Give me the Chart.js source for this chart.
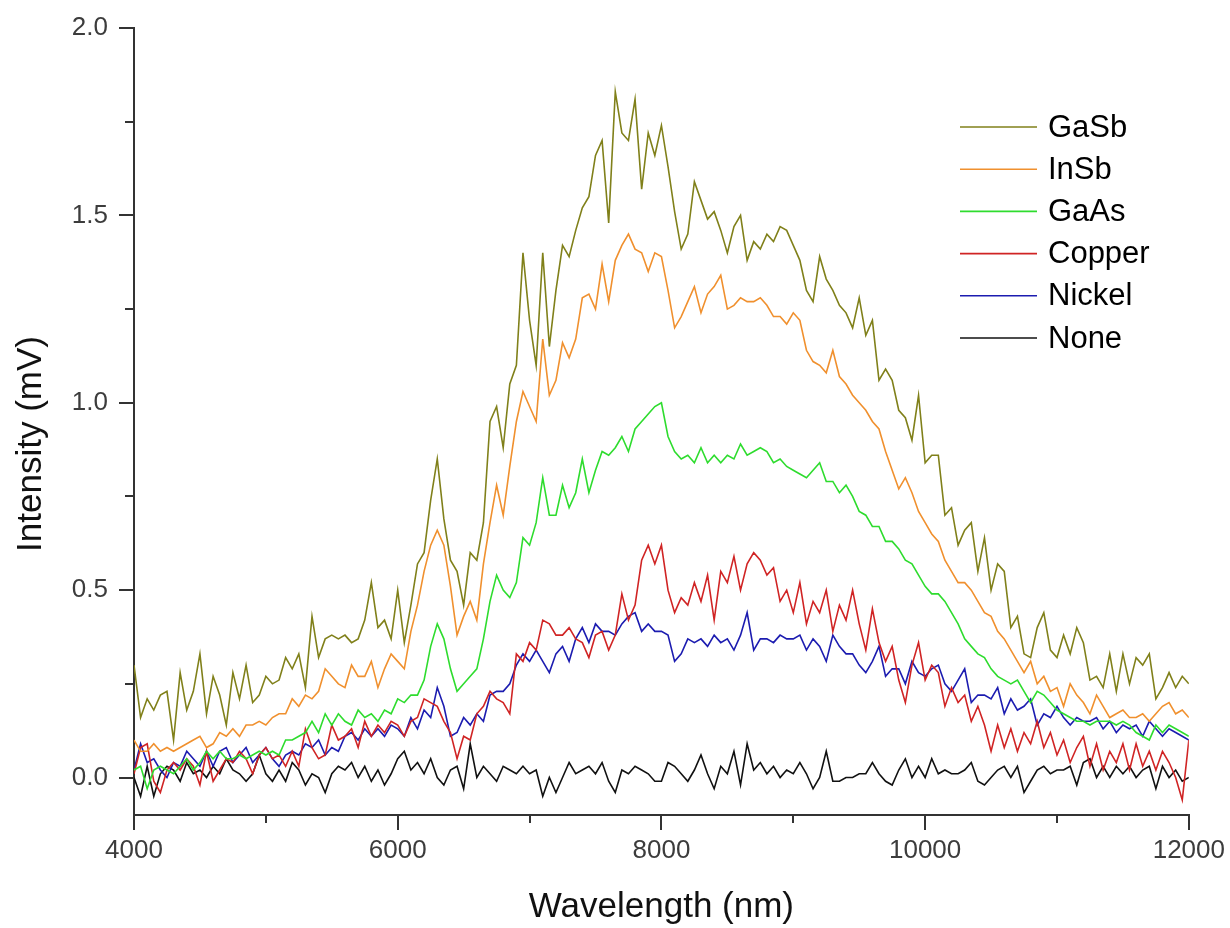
<!DOCTYPE html>
<html>
<head>
<meta charset="utf-8">
<title>Intensity vs Wavelength</title>
<script src="https://cdn.jsdelivr.net/npm/chart.js@4.4.1/dist/chart.umd.min.js"></script>
<style>
  html, body { margin: 0; padding: 0; background: #fff; }
  #wrap { width: 1230px; height: 928px; position: relative; }
</style>
</head>
<body>
<div id="wrap"><canvas id="spectrumChart"></canvas></div>
<script>
// sampling grid: 4000 .. 12000 nm, 50 nm apart
var wavelengths = [];
for (var w = 4000; w <= 12000; w += 50) wavelengths.push(w);

var gasb = [
  0.30, 0.16, 0.21, 0.18, 0.22, 0.23, 0.10, 0.28, 0.18, 0.23,
  0.33, 0.17, 0.27, 0.22, 0.14, 0.28, 0.21, 0.30, 0.20, 0.22,
  0.27, 0.25, 0.26, 0.32, 0.29, 0.33, 0.24, 0.43, 0.32, 0.37,
  0.38, 0.37, 0.38, 0.36, 0.37, 0.42, 0.52, 0.40, 0.42, 0.37,
  0.50, 0.36, 0.46, 0.57, 0.60, 0.74, 0.85, 0.69, 0.58, 0.55,
  0.46, 0.60, 0.58, 0.68, 0.95, 0.99, 0.88, 1.05, 1.10, 1.40,
  1.22, 1.10, 1.40, 1.15, 1.30, 1.42, 1.39, 1.46, 1.52, 1.55,
  1.66, 1.70, 1.48, 1.83, 1.72, 1.70, 1.81, 1.57, 1.72, 1.66,
  1.74, 1.63, 1.51, 1.41, 1.45, 1.59, 1.54, 1.49, 1.51, 1.46,
  1.40, 1.47, 1.50, 1.38, 1.43, 1.41, 1.45, 1.43, 1.47, 1.46,
  1.42, 1.38, 1.30, 1.27, 1.39, 1.33, 1.30, 1.26, 1.24, 1.20,
  1.28, 1.18, 1.22, 1.06, 1.09, 1.06, 0.98, 0.96, 0.90, 1.02,
  0.84, 0.86, 0.86, 0.70, 0.72, 0.62, 0.66, 0.68, 0.55, 0.64,
  0.50, 0.57, 0.55, 0.40, 0.43, 0.33, 0.32, 0.40, 0.44, 0.34,
  0.32, 0.38, 0.33, 0.40, 0.36, 0.26, 0.27, 0.24, 0.33, 0.23,
  0.33, 0.25, 0.32, 0.30, 0.33, 0.21, 0.24, 0.28, 0.24, 0.27, 0.25
];

var insb = [
  0.10, 0.07, 0.07, 0.09, 0.07, 0.08, 0.07, 0.08, 0.09, 0.10,
  0.11, 0.08, 0.09, 0.12, 0.11, 0.13, 0.11, 0.14, 0.14, 0.15,
  0.14, 0.16, 0.17, 0.17, 0.21, 0.19, 0.22, 0.21, 0.23, 0.29,
  0.27, 0.25, 0.24, 0.30, 0.27, 0.27, 0.31, 0.24, 0.29, 0.33,
  0.31, 0.29, 0.39, 0.46, 0.55, 0.62, 0.66, 0.62, 0.51, 0.38,
  0.43, 0.47, 0.42, 0.57, 0.68, 0.78, 0.70, 0.83, 0.95, 1.03,
  0.99, 0.95, 1.17, 1.02, 1.06, 1.16, 1.12, 1.17, 1.28, 1.29,
  1.25, 1.37, 1.27, 1.38, 1.42, 1.45, 1.41, 1.40, 1.35, 1.40,
  1.39, 1.30, 1.20, 1.23, 1.27, 1.31, 1.24, 1.29, 1.31, 1.34,
  1.25, 1.26, 1.28, 1.27, 1.27, 1.28, 1.26, 1.23, 1.23, 1.21,
  1.24, 1.22, 1.14, 1.11, 1.10, 1.08, 1.14, 1.07, 1.05, 1.02,
  1.00, 0.98, 0.95, 0.93, 0.87, 0.82, 0.77, 0.80, 0.76, 0.71,
  0.68, 0.65, 0.63, 0.58, 0.55, 0.52, 0.52, 0.50, 0.47, 0.44,
  0.43, 0.39, 0.37, 0.34, 0.31, 0.28, 0.31, 0.25, 0.27, 0.23,
  0.24, 0.19, 0.25, 0.22, 0.20, 0.17, 0.22, 0.19, 0.16, 0.17,
  0.18, 0.16, 0.16, 0.17, 0.15, 0.17, 0.19, 0.20, 0.17, 0.18, 0.16
];

var gaas = [
  0.02, 0.03, -0.03, 0.02, 0.03, 0.02, 0.01, 0.03, 0.05, 0.02,
  0.04, 0.07, 0.05, 0.07, 0.05, 0.05, 0.06, 0.05, 0.06, 0.07,
  0.06, 0.07, 0.06, 0.10, 0.10, 0.11, 0.12, 0.15, 0.12, 0.17,
  0.14, 0.17, 0.15, 0.14, 0.18, 0.16, 0.17, 0.15, 0.18, 0.17,
  0.21, 0.20, 0.22, 0.22, 0.26, 0.35, 0.41, 0.37, 0.29, 0.23,
  0.25, 0.27, 0.29, 0.37, 0.47, 0.54, 0.50, 0.48, 0.52, 0.64,
  0.62, 0.68, 0.80, 0.70, 0.70, 0.78, 0.72, 0.76, 0.85, 0.76,
  0.82, 0.87, 0.86, 0.88, 0.91, 0.87, 0.93, 0.95, 0.97, 0.99,
  1.00, 0.91, 0.87, 0.85, 0.86, 0.84, 0.88, 0.84, 0.86, 0.84,
  0.86, 0.85, 0.89, 0.86, 0.87, 0.88, 0.87, 0.84, 0.85, 0.83,
  0.82, 0.81, 0.80, 0.82, 0.84, 0.79, 0.79, 0.76, 0.78, 0.75,
  0.71, 0.70, 0.67, 0.67, 0.63, 0.63, 0.61, 0.58, 0.57, 0.54,
  0.51, 0.49, 0.49, 0.47, 0.44, 0.41, 0.37, 0.35, 0.33, 0.32,
  0.29, 0.27, 0.26, 0.25, 0.26, 0.23, 0.20, 0.23, 0.22, 0.20,
  0.18, 0.17, 0.16, 0.15, 0.15, 0.14, 0.15, 0.15, 0.15, 0.14,
  0.15, 0.14, 0.12, 0.11, 0.10, 0.14, 0.12, 0.14, 0.13, 0.12, 0.11
];

var copper = [
  0.01, 0.08, 0.09, -0.01, -0.04, 0.02, 0.04, 0.02, 0.05, 0.03,
  -0.02, 0.07, -0.01, 0.02, 0.05, 0.04, 0.07, 0.05, 0.01, 0.06,
  0.08, 0.05, 0.06, 0.03, 0.07, 0.03, 0.13, 0.08, 0.05, 0.06,
  0.14, 0.10, 0.11, 0.13, 0.08, 0.15, 0.11, 0.14, 0.12, 0.15,
  0.14, 0.11, 0.15, 0.16, 0.21, 0.20, 0.19, 0.15, 0.12, 0.05,
  0.11, 0.10, 0.17, 0.19, 0.23, 0.21, 0.20, 0.17, 0.33, 0.31,
  0.36, 0.34, 0.42, 0.41, 0.38, 0.38, 0.40, 0.37, 0.36, 0.32,
  0.38, 0.39, 0.34, 0.38, 0.49, 0.42, 0.46, 0.58, 0.62, 0.57,
  0.62, 0.50, 0.44, 0.48, 0.46, 0.52, 0.47, 0.54, 0.42, 0.55,
  0.52, 0.59, 0.50, 0.57, 0.60, 0.58, 0.54, 0.56, 0.47, 0.50,
  0.44, 0.52, 0.41, 0.47, 0.44, 0.50, 0.39, 0.46, 0.42, 0.50,
  0.41, 0.34, 0.45, 0.36, 0.31, 0.35, 0.26, 0.20, 0.30, 0.36,
  0.26, 0.30, 0.28, 0.19, 0.24, 0.20, 0.22, 0.15, 0.19, 0.14,
  0.07, 0.14, 0.08, 0.13, 0.07, 0.12, 0.09, 0.15, 0.08, 0.12,
  0.06, 0.10, 0.04, 0.08, 0.11, 0.03, 0.09, 0.02, 0.07, 0.04,
  0.09, 0.02, 0.09, 0.03, 0.07, 0.02, 0.07, 0.04, 0.00, -0.06, 0.10
];

var nickel = [
  0.02, 0.09, 0.04, 0.05, 0.02, 0.00, 0.04, 0.03, 0.07, 0.05,
  0.03, 0.07, 0.03, 0.07, 0.08, 0.04, 0.06, 0.08, 0.04, 0.06,
  0.08, 0.05, 0.03, 0.06, 0.07, 0.06, 0.09, 0.08, 0.10, 0.06,
  0.08, 0.07, 0.11, 0.12, 0.10, 0.13, 0.11, 0.13, 0.11, 0.14,
  0.13, 0.11, 0.16, 0.13, 0.18, 0.16, 0.24, 0.19, 0.11, 0.12,
  0.16, 0.14, 0.17, 0.15, 0.22, 0.23, 0.23, 0.25, 0.30, 0.33,
  0.31, 0.34, 0.31, 0.28, 0.33, 0.35, 0.31, 0.37, 0.40, 0.36,
  0.41, 0.39, 0.39, 0.38, 0.41, 0.43, 0.44, 0.39, 0.41, 0.39,
  0.39, 0.38, 0.31, 0.33, 0.37, 0.36, 0.37, 0.35, 0.38, 0.36,
  0.37, 0.34, 0.38, 0.44, 0.34, 0.37, 0.37, 0.36, 0.38, 0.37,
  0.37, 0.38, 0.34, 0.37, 0.35, 0.31, 0.38, 0.35, 0.33, 0.33,
  0.30, 0.28, 0.31, 0.35, 0.27, 0.29, 0.29, 0.25, 0.31, 0.28,
  0.27, 0.29, 0.30, 0.25, 0.23, 0.26, 0.29, 0.20, 0.22, 0.22,
  0.21, 0.24, 0.17, 0.21, 0.18, 0.19, 0.21, 0.14, 0.17, 0.16,
  0.19, 0.16, 0.14, 0.16, 0.15, 0.15, 0.16, 0.13, 0.15, 0.12,
  0.14, 0.13, 0.14, 0.11, 0.15, 0.13, 0.11, 0.13, 0.12, 0.11, 0.10
];

var none = [
  0.00, -0.05, 0.03, -0.05, 0.01, 0.03, 0.02, -0.01, 0.04, 0.01,
  0.02, 0.00, 0.03, 0.01, 0.05, 0.02, 0.01, -0.01, 0.01, 0.06,
  0.01, -0.01, 0.02, -0.01, 0.04, 0.02, -0.02, 0.01, 0.00, -0.04,
  0.01, 0.03, 0.02, 0.04, 0.00, 0.03, -0.01, 0.02, -0.02, 0.01,
  0.05, 0.07, 0.02, 0.04, 0.01, 0.05, 0.00, -0.02, 0.02, 0.03,
  -0.03, 0.09, 0.00, 0.03, 0.01, -0.01, 0.03, 0.02, 0.01, 0.03,
  0.01, 0.02, -0.05, 0.00, -0.04, 0.00, 0.04, 0.01, 0.02, 0.03,
  0.01, 0.04, -0.01, -0.04, 0.02, 0.01, 0.03, 0.02, 0.01, -0.01,
  -0.01, 0.04, 0.03, 0.01, -0.01, 0.02, 0.06, 0.01, -0.03, 0.03,
  0.01, 0.07, -0.02, 0.09, 0.02, 0.04, 0.01, 0.03, 0.00, 0.02,
  0.01, 0.04, 0.01, -0.03, 0.00, 0.07, -0.01, -0.01, 0.00, 0.00,
  0.01, 0.01, 0.04, 0.01, -0.01, -0.02, 0.02, 0.05, 0.00, 0.03,
  0.00, 0.05, 0.01, 0.02, 0.01, 0.01, 0.02, 0.04, -0.01, -0.02,
  0.00, 0.02, 0.03, 0.00, 0.03, -0.04, -0.01, 0.02, 0.03, 0.01,
  0.02, 0.02, 0.03, -0.02, 0.04, 0.05, 0.00, 0.03, 0.00, 0.03,
  0.01, 0.03, 0.00, 0.02, 0.03, -0.03, 0.03, 0.00, 0.02, -0.01, 0.00
];

var seriesNames = ["GaSb", "InSb", "GaAs", "Copper", "Nickel", "None"];
var seriesValues = [gasb, insb, gaas, copper, nickel, none];
var seriesColors = ["#80801a", "#f0902e", "#2edc2e", "#d02424", "#1c1cb0", "#111111"];

var xTicks = [4000, 6000, 8000, 10000, 12000];
var xMinorTicks = [5000, 7000, 9000, 11000];
var yTicks = [0.0, 0.5, 1.0, 1.5, 2.0];
var yMinorTicks = [0.25, 0.75, 1.25, 1.75];

var FONT = '"Liberation Sans", Arial, sans-serif';
var AXIS_COLOR = "#333";
var LABEL_COLOR = "#3c3c3c";

// minor ticks, axis titles and the legend box
var decorPlugin = {
    id: "decor",
    afterDraw: function (chart) {
        var ctx = chart.ctx;
        var xs = chart.scales.x;
        var ys = chart.scales.y;
        var area = chart.chartArea;

        ctx.save();
        ctx.strokeStyle = AXIS_COLOR;
        ctx.lineWidth = 2;
        xMinorTicks.forEach(function (v) {
            var px = Math.round(xs.getPixelForValue(v));
            ctx.beginPath();
            ctx.moveTo(px, area.bottom);
            ctx.lineTo(px, area.bottom + 8);
            ctx.stroke();
        });
        yMinorTicks.forEach(function (v) {
            var py = Math.round(ys.getPixelForValue(v));
            ctx.beginPath();
            ctx.moveTo(area.left, py);
            ctx.lineTo(area.left - 9, py);
            ctx.stroke();
        });

        ctx.fillStyle = "#111";
        ctx.font = "35px " + FONT;
        ctx.textAlign = "center";
        ctx.textBaseline = "middle";
        ctx.fillText("Wavelength (nm)", (area.left + area.right) / 2, 907);
        ctx.save();
        ctx.translate(31, 444);
        ctx.rotate(-Math.PI / 2);
        ctx.fillText("Intensity (mV)", 0, 0);
        ctx.restore();

        ctx.font = "31px " + FONT;
        ctx.textAlign = "left";
        for (var i = 0; i < seriesNames.length; i++) {
            var ly = 127 + i * 42.2;
            ctx.strokeStyle = seriesColors[i];
            ctx.lineWidth = 1.6;
            ctx.beginPath();
            ctx.moveTo(960, ly);
            ctx.lineTo(1037, ly);
            ctx.stroke();
            ctx.fillStyle = "#000";
            ctx.fillText(seriesNames[i], 1048, ly + 1);
        }
        ctx.restore();
    }
};

var datasets = seriesNames.map(function (name, s) {
    return {
        label: name,
        data: wavelengths.map(function (wl, i) { return { x: wl, y: seriesValues[s][i] }; }),
        borderColor: seriesColors[s],
        backgroundColor: seriesColors[s],
        borderWidth: 1.6,
        pointRadius: 0,
        tension: 0,
        fill: false
    };
});

var ctx = document.getElementById("spectrumChart");
var spectrumChart = new Chart(ctx, {
    type: "line",
    data: { datasets: datasets },
    options: {
        responsive: true,
        maintainAspectRatio: false,
        animation: false,
        layout: { padding: { top: 28, right: 40, bottom: 0, left: 0 } },
        plugins: {
            legend: { display: false },
            tooltip: { enabled: false }
        },
        scales: {
            x: {
                type: "linear",
                min: 4000,
                max: 12000,
                afterBuildTicks: function (scale) {
                    scale.ticks = xTicks.map(function (v) { return { value: v }; });
                },
                afterFit: function (scale) { scale.height = 113; },
                ticks: {
                    font: { size: 26, family: FONT },
                    color: LABEL_COLOR,
                    padding: 5,
                    maxRotation: 0,
                    callback: function (v) { return String(v); }
                },
                grid: { drawOnChartArea: false, drawTicks: true, tickLength: 15, color: AXIS_COLOR, lineWidth: 2 },
                border: { display: true, color: AXIS_COLOR, width: 2 }
            },
            y: {
                type: "linear",
                min: -0.1,
                max: 2.0,
                afterBuildTicks: function (scale) {
                    scale.ticks = yTicks.map(function (v) { return { value: v }; });
                },
                afterFit: function (scale) { scale.width = 134; },
                ticks: {
                    font: { size: 26, family: FONT },
                    color: LABEL_COLOR,
                    padding: 11,
                    callback: function (v) { return Number(v).toFixed(1); }
                },
                grid: { drawOnChartArea: false, drawTicks: true, tickLength: 15, color: AXIS_COLOR, lineWidth: 2 },
                border: { display: true, color: AXIS_COLOR, width: 2 }
            }
        }
    },
    plugins: [decorPlugin]
});
</script>
</body>
</html>
